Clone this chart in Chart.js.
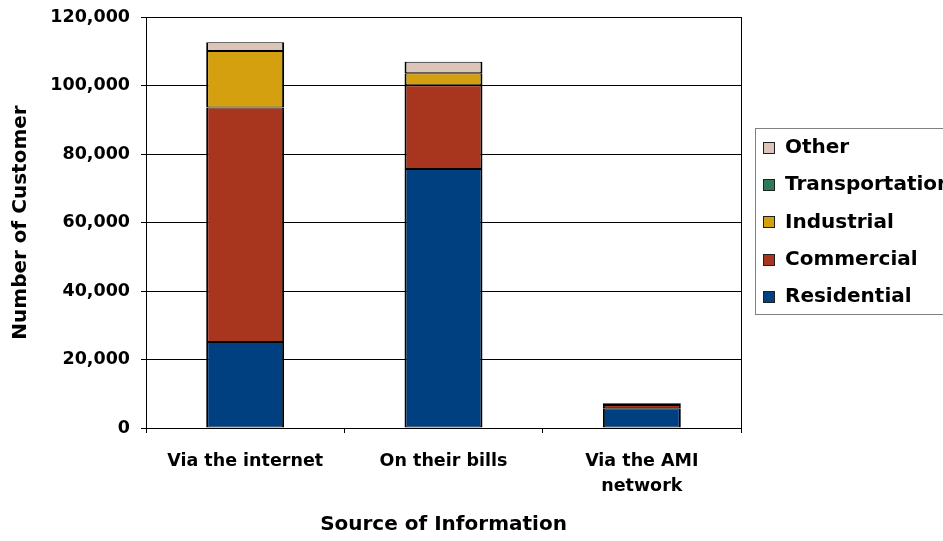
<!DOCTYPE html>
<html>
<head>
<meta charset="utf-8">
<script src="https://cdn.jsdelivr.net/npm/chart.js@4/dist/chart.umd.min.js"></script>
<style>
  html, body { margin: 0; padding: 0; background: #ffffff; }
  #wrap { width: 943px; height: 541px; position: relative; }
</style>
</head>
<body>
<div id="wrap"><canvas id="customerChart" width="943" height="541"></canvas></div>
<script>
let sources = ['Via the internet', 'On their bills', ['Via the AMI', 'network']];
let residential = [25100, 75600, 5800];
let commercial = [68500, 24500, 900];
let industrial = [16500, 3500, 300];
let transportation = [0, 0, 100];
let other = [2500, 3300, 200];
let yTicks = [0, 20000, 40000, 60000, 80000, 100000, 120000];

let seriesNames = ['Residential', 'Commercial', 'Industrial', 'Transportation', 'Other'];
let seriesColors = ['#004080', '#a8361f', '#d4a010', '#2e7b5c', '#dcc4b8'];
let seriesValues = [residential, commercial, industrial, transportation, other];

Chart.defaults.font.family = "'DejaVu Sans', sans-serif";
Chart.defaults.font.weight = 'bold';
Chart.defaults.color = '#000000';

// legend drawn by hand so it can sit half off the right edge like the original
let sideLegend = {
    id: 'sideLegend',
    afterDraw(chart) {
        let ctx = chart.ctx;
        ctx.save();
        ctx.strokeStyle = '#808080';
        ctx.lineWidth = 1;
        ctx.strokeRect(755.5, 128.5, 220, 186);
        ctx.font = "bold 20px 'DejaVu Sans', sans-serif";
        ctx.textBaseline = 'middle';
        ctx.textAlign = 'left';
        let items = chart.data.datasets.slice().reverse();
        items.forEach((ds, i) => {
            let y = 148 + i * 37.2;
            ctx.fillStyle = ds.backgroundColor;
            ctx.fillRect(763, Math.round(y) - 6, 12, 12);
            ctx.strokeStyle = '#202020';
            ctx.strokeRect(763.5, Math.round(y) - 5.5, 11, 11);
            ctx.fillStyle = '#000000';
            ctx.fillText(ds.label, 785, y);
        });
        ctx.restore();
    }
};

let datasets = seriesNames.map((name, i) => ({
    label: name,
    data: seriesValues[i],
    backgroundColor: seriesColors[i],
    borderColor: '#000000',
    borderWidth: { top: 1, bottom: 1, left: 2, right: 2 },
    borderSkipped: false,
    barPercentage: 0.393,
    categoryPercentage: 1
}));

let ctx = document.getElementById('customerChart').getContext('2d');
let customerChart = new Chart(ctx, {
    type: 'bar',
    data: { labels: sources, datasets: datasets },
    options: {
        responsive: false,
        animation: false,
        layout: { padding: { left: 0, right: 202, top: 17, bottom: 0 } },
        plugins: {
            legend: { display: false },
            tooltip: { enabled: false }
        },
        scales: {
            x: {
                stacked: true,
                afterFit(scale) { scale.height = 113; },
                grid: {
                    offset: true,
                    drawOnChartArea: true,
                    color: c => c.tick ? 'transparent' : '#000000',
                    tickColor: '#000000',
                    tickLength: 5,
                    lineWidth: 1
                },
                border: { display: true, color: '#000000', width: 1 },
                ticks: {
                    padding: 16,
                    maxRotation: 0,
                    autoSkip: false,
                    font: { size: 17.5, weight: 'bold', lineHeight: 1.43 }
                },
                title: {
                    display: true,
                    text: 'Source of Information',
                    font: { size: 20, weight: 'bold' },
                    padding: { top: 0, bottom: 4 }
                }
            },
            y: {
                stacked: true,
                min: 0,
                max: 120000,
                afterFit(scale) {
                    scale.width = 146;
                    scale.paddingTop = 0;
                    scale.paddingBottom = 0;
                },
                afterBuildTicks(scale) { scale.ticks = yTicks.map(v => ({ value: v })); },
                grid: {
                    color: '#000000',
                    tickColor: '#000000',
                    tickLength: 5,
                    lineWidth: 1
                },
                border: { display: true, color: '#000000', width: 1 },
                ticks: {
                    padding: 11,
                    font: { size: 17.5, weight: 'bold' },
                    callback: v => v.toLocaleString('en-US')
                },
                title: {
                    display: true,
                    text: 'Number of Customer',
                    font: { size: 20, weight: 'bold' },
                    padding: { top: 9, bottom: 0 }
                }
            }
        }
    },
    plugins: [sideLegend]
});
</script>
</body>
</html>
